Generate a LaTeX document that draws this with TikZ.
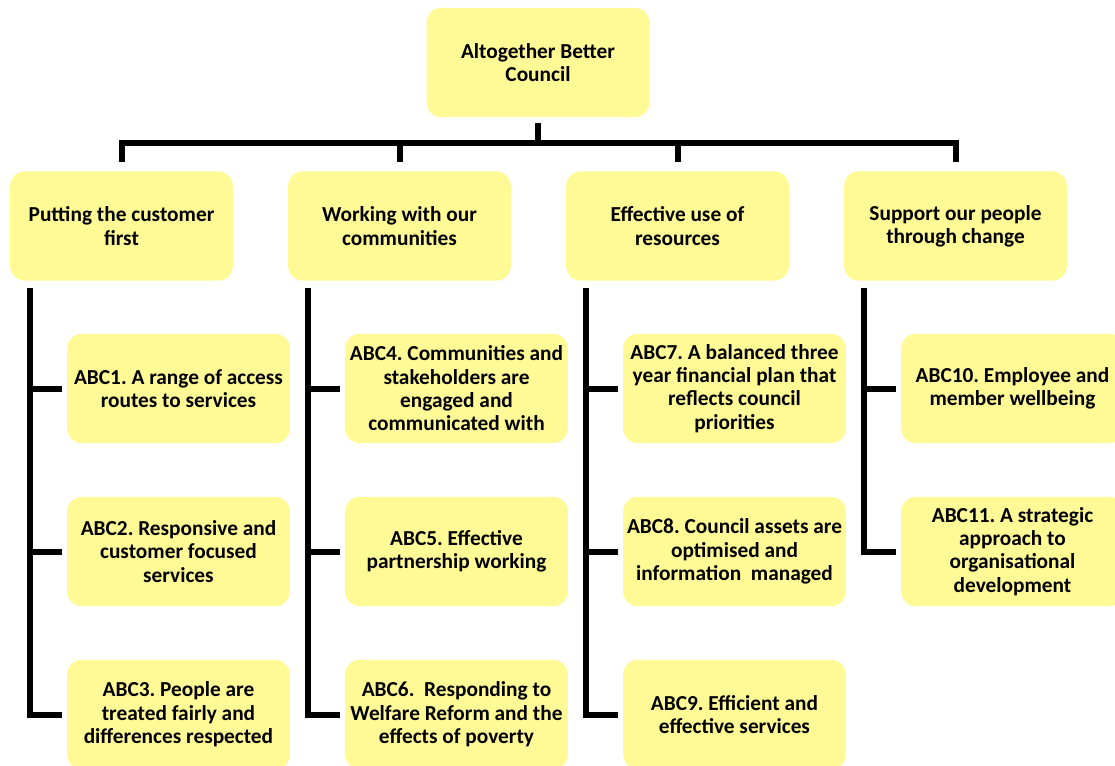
\documentclass[tikz,border=0pt]{standalone}
\usepackage{fontspec}
\setmainfont{Carlito}
\usetikzlibrary{positioning,calc}
\definecolor{boxcolor}{RGB}{255,250,150}
\tikzset{
  box/.style={rectangle, rounded corners=11pt, fill=boxcolor, draw=none,
    minimum width=167pt, minimum height=82pt, align=center, inner sep=2pt,
    font=\fontsize{16}{17.5}\selectfont\bfseries\frenchspacing},
  link/.style={line width=4.5pt, black}
}

\begin{document}
\begin{tikzpicture}[x=0.75pt,y=-0.75pt]
\useasboundingbox (0,0) rectangle (1115,765);
% top of the tree
\node[box] (top) at (538,62.5) {Altogether Better\\Council};
\coordinate (bus) at (538,143);
\node[box] (theme1) at (121.5,226) {Putting the customer\\first};
\node[box] (theme2) at (399.5,226) {Working with our\\communities};
\node[box] (theme3) at (677.5,226) {Effective use of\\resources};
\node[box] (theme4) at (955.5,226) {Support our people\\through change};
\draw[link,shorten <=4.5pt] (top.south) -- (bus);
\draw[link,shorten <=6.75pt,shorten >=6.75pt] (theme1.north) |- (bus) -| (theme4.north);
\draw[link,shorten >=6.75pt] (bus -| theme2.north) -- (theme2.north);
\draw[link,shorten >=6.75pt] (bus -| theme3.north) -- (theme3.north);
% objectives under each theme
\node[box] (abc1) at (178.5,388.5) {ABC1. A range of access\\routes to services};
\node[box] (abc2) at (178.5,551.5) {ABC2. Responsive and\\customer focused\\services};
\node[box] (abc3) at (178.5,714.5) {ABC3. People are\\treated fairly and\\differences respected};
\node[box] (abc4) at (456.5,388.5) {ABC4. Communities and\\stakeholders are\\engaged and\\communicated with};
\node[box] (abc5) at (456.5,551.5) {ABC5. Effective\\partnership working};
\node[box] (abc6) at (456.5,714.5) {ABC6.\ \ Responding to\\Welfare Reform and the\\effects of poverty};
\node[box] (abc7) at (734.5,388.5) {ABC7. A balanced three\\year financial plan that\\reflects council\\priorities};
\node[box] (abc8) at (734.5,551.5) {ABC8. Council assets are\\optimised and\\information\ \ managed};
\node[box] (abc9) at (734.5,714.5) {ABC9. Efficient and\\effective services};
\node[box] (abc10) at (1012.5,388.5) {ABC10. Employee and\\member wellbeing};
\node[box] (abc11) at (1012.5,551.5) {ABC11. A strategic\\approach to\\organisational\\development};
% branches
\draw[link] ([shift={(15pt,-5.25pt)}]theme1.south west) |- ([xshift=-3.75pt]abc3.west);
\draw[link] ([xshift=15pt]theme1.south west |- abc1.west) -- ([xshift=-3.75pt]abc1.west);
\draw[link] ([xshift=15pt]theme1.south west |- abc2.west) -- ([xshift=-3.75pt]abc2.west);
\draw[link] ([shift={(15pt,-5.25pt)}]theme2.south west) |- ([xshift=-3.75pt]abc6.west);
\draw[link] ([xshift=15pt]theme2.south west |- abc4.west) -- ([xshift=-3.75pt]abc4.west);
\draw[link] ([xshift=15pt]theme2.south west |- abc5.west) -- ([xshift=-3.75pt]abc5.west);
\draw[link] ([shift={(15pt,-5.25pt)}]theme3.south west) |- ([xshift=-3.75pt]abc9.west);
\draw[link] ([xshift=15pt]theme3.south west |- abc7.west) -- ([xshift=-3.75pt]abc7.west);
\draw[link] ([xshift=15pt]theme3.south west |- abc8.west) -- ([xshift=-3.75pt]abc8.west);
\draw[link] ([shift={(15pt,-5.25pt)}]theme4.south west) |- ([xshift=-3.75pt]abc11.west);
\draw[link] ([xshift=15pt]theme4.south west |- abc10.west) -- ([xshift=-3.75pt]abc10.west);
\end{tikzpicture}
\end{document}
